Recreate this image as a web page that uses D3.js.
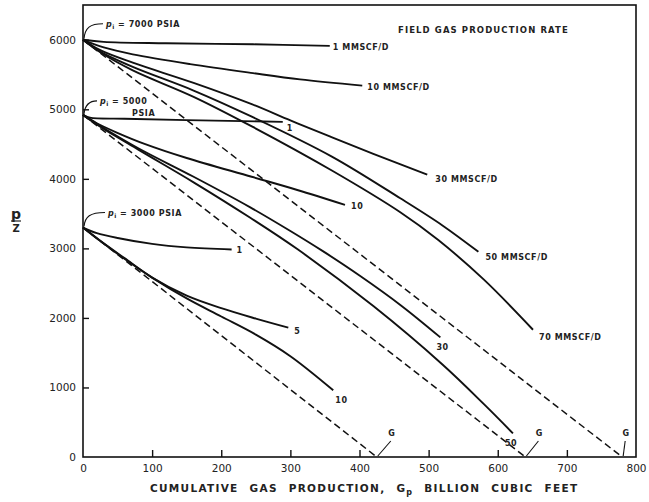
<!DOCTYPE html>
<html>
<head>
<meta charset="utf-8">
<script src="https://cdn.jsdelivr.net/npm/d3@7"></script>
<style>
  body { margin: 0; background: #fff; }
  svg text { font-family: "DejaVu Sans", sans-serif; fill: #222; }
  .tick text { font-size: 10.5px; }
  .lbl { font-size: 8px; font-weight: bold; letter-spacing: 0.6px; }
  .curve { fill: none; stroke: #111; stroke-width: 1.9; }
  .gline { fill: none; stroke: #111; stroke-width: 1.5; stroke-dasharray: 7,4; }
</style>
</head>
<body>
<div id="chart"></div>
<script>
// axis ticks
const xTicks = [0, 100, 200, 300, 400, 500, 600, 700, 800];
const yTicks = [0, 1000, 2000, 3000, 4000, 5000, 6000];

// initial p/Z for each reservoir pressure
const initialPz = { 7000: 6000, 5000: 4920, 3000: 3300 };
// G (gas in place) for each reservoir pressure, bcf
const gasInPlace = { 7000: 780, 5000: 640, 3000: 425 };

// p/Z vs Gp, pi = 7000 psia
const p7000_q1 = [[0, 6000], [30, 5970], [120, 5950], [246, 5935], [357, 5912]];
const p7000_q10 = [[0, 6000], [30, 5890], [72, 5790], [155, 5650], [246, 5520], [314, 5430], [404, 5340]];
const p7000_q30 = [[0, 6000], [25, 5850], [72, 5670], [160, 5380], [245, 5070], [300, 4840], [357, 4610], [420, 4360], [498, 4060]];
const p7000_q50 = [[0, 6000], [25, 5830], [72, 5610], [160, 5270], [245, 4890], [360, 4320], [459, 3720], [520, 3330], [572, 2950]];
const p7000_q70 = [[0, 6000], [25, 5820], [72, 5560], [160, 5180], [245, 4750], [360, 4120], [459, 3520], [514, 3120], [580, 2550], [651, 1830]];

// pi = 5000 psia
const p5000_q1 = [[0, 4920], [10, 4880], [60, 4865], [150, 4845], [289, 4820]];
const p5000_q10 = [[0, 4920], [20, 4800], [48, 4670], [90, 4500], [150, 4300], [244, 4030], [310, 3840], [379, 3626]];
const p5000_q30 = [[0, 4920], [25, 4760], [80, 4440], [160, 4030], [242, 3590], [300, 3250], [347, 2960], [400, 2610], [460, 2180], [517, 1720]];
const p5000_q50 = [[0, 4920], [25, 4750], [80, 4420], [160, 3950], [242, 3440], [310, 2990], [420, 2170], [520, 1330], [580, 760], [622, 340]];

// pi = 3000 psia
const p3000_q1 = [[0, 3300], [20, 3220], [50, 3150], [100, 3065], [150, 3015], [215, 2985]];
const p3000_q5 = [[0, 3300], [25, 3110], [60, 2860], [100, 2580], [150, 2320], [200, 2140], [250, 1990], [297, 1860]];
const p3000_q10 = [[0, 3300], [25, 3105], [60, 2850], [100, 2580], [150, 2280], [200, 2020], [250, 1760], [300, 1450], [362, 960]];

const curves = [
  { pts: p7000_q1, label: "1 MMSCF/D", dx: 3, dy: 2 },
  { pts: p7000_q10, label: "10 MMSCF/D", dx: 5, dy: 2 },
  { pts: p7000_q30, label: "30 MMSCF/D", dx: 8, dy: 5 },
  { pts: p7000_q50, label: "50 MMSCF/D", dx: 7, dy: 6 },
  { pts: p7000_q70, label: "70 MMSCF/D", dx: 6, dy: 8 },
  { pts: p5000_q1, label: "1", dx: 4, dy: 7 },
  { pts: p5000_q10, label: "10", dx: 6, dy: 2 },
  { pts: p5000_q30, label: "30", dx: -4, dy: 10 },
  { pts: p5000_q50, label: "50", dx: -8, dy: 10 },
  { pts: p3000_q1, label: "1", dx: 5, dy: 1 },
  { pts: p3000_q5, label: "5", dx: 6, dy: 4 },
  { pts: p3000_q10, label: "10", dx: 2, dy: 10 }
];

const width = 649, height = 502;
const margin = { top: 5, right: 13, bottom: 45, left: 83 };

const svg = d3.select("#chart").append("svg")
  .attr("width", width)
  .attr("height", height);

const x = d3.scaleLinear().domain([0, 800]).range([margin.left, width - margin.right]);
const y = d3.scaleLinear().domain([0, 6500]).range([height - margin.bottom, margin.top]);

// frame
svg.append("rect")
  .attr("x", x(0)).attr("y", y(6500))
  .attr("width", x(800) - x(0)).attr("height", y(0) - y(6500))
  .attr("fill", "none").attr("stroke", "#111").attr("stroke-width", 1.6);

const xAxis = svg.append("g")
  .attr("transform", `translate(0,${y(0)})`)
  .call(d3.axisBottom(x).tickValues(xTicks).tickFormat(d3.format("d"))
    .tickSizeInner(-7).tickSizeOuter(0).tickPadding(8));
const yAxis = svg.append("g")
  .attr("transform", `translate(${x(0)},0)`)
  .call(d3.axisLeft(y).tickValues(yTicks).tickFormat(d3.format("d"))
    .tickSizeInner(-6).tickSizeOuter(0).tickPadding(7));
[xAxis, yAxis].forEach(a => {
  a.select(".domain").remove();
  a.selectAll(".tick line").attr("stroke", "#111").attr("stroke-width", 1.4);
  a.selectAll(".tick text").attr("fill", "#222");
});
yAxis.selectAll(".tick").filter(d => d === 0).select("line").remove();
xAxis.selectAll(".tick").filter(d => d === 0 || d === 800).select("line").remove();

const line = d3.line()
  .x(d => x(d[0]))
  .y(d => y(d[1]))
  .curve(d3.curveCatmullRom.alpha(0.5));

// dashed material balance lines
Object.keys(initialPz).forEach(pi => {
  svg.append("path")
    .attr("class", "gline")
    .attr("d", d3.line().x(d => x(d[0])).y(d => y(d[1]))([[0, initialPz[pi]], [gasInPlace[pi], 0]]));
});

// rate curves
curves.forEach(c => {
  svg.append("path").attr("class", "curve").attr("d", line(c.pts));
  const end = c.pts[c.pts.length - 1];
  svg.append("text")
    .attr("class", "lbl")
    .attr("x", x(end[0]) + c.dx)
    .attr("y", y(end[1]) + c.dy)
    .attr("dominant-baseline", "middle")
    .text(c.label);
});

// G markers at intercepts
const gMarks = [
  { pi: 3000, dx: 14, dy: -16 },
  { pi: 5000, dx: 13, dy: -16 },
  { pi: 7000, dx: 3, dy: -16 }
];
gMarks.forEach(g => {
  const gx = x(gasInPlace[g.pi]), gy = y(0);
  svg.append("line")
    .attr("x1", gx + 1).attr("y1", gy - 1)
    .attr("x2", gx + g.dx).attr("y2", gy + g.dy)
    .attr("stroke", "#111").attr("stroke-width", 1.1);
  svg.append("text")
    .attr("class", "lbl")
    .attr("x", gx + g.dx + 1).attr("y", gy + g.dy - 5)
    .attr("text-anchor", "middle")
    .text("G");
});

// initial pressure labels with curved leaders
const piLabels = [
  { pi: 7000, lx: 103, ly: -15, lines: ["= 7000 PSIA"] },
  { pi: 5000, lx: 97, ly: -13, lines: ["= 5000", "PSIA"] },
  { pi: 3000, lx: 105, ly: -14, lines: ["= 3000 PSIA"] }
];
piLabels.forEach(p => {
  const sx = x(0) + 1, sy = y(initialPz[p.pi]) - 1;
  const ex = p.lx, ey = sy + p.ly;
  svg.append("path")
    .attr("d", `M${sx},${sy} C${sx + 1},${ey + 4} ${sx + 6},${ey} ${ex},${ey}`)
    .attr("fill", "none").attr("stroke", "#111").attr("stroke-width", 1.1);
  const t = svg.append("text").attr("class", "lbl").attr("x", ex + 3).attr("y", ey + 3);
  t.append("tspan").attr("font-style", "italic").text("p");
  t.append("tspan").attr("font-size", "6px").attr("dy", 2).text("i");
  t.append("tspan").attr("dy", -2).attr("dx", 3).text(p.lines[0]);
  if (p.lines[1]) {
    svg.append("text").attr("class", "lbl")
      .attr("x", ex + 35).attr("y", ey + 15)
      .text(p.lines[1]);
  }
});

// legend heading
svg.append("text")
  .attr("class", "lbl")
  .attr("x", 398).attr("y", 33)
  .style("font-size", "8.5px")
  .style("letter-spacing", "1.1px")
  .text("FIELD GAS PRODUCTION RATE");

// y axis title p / Z
const yt = svg.append("g").attr("transform", "translate(16,221)");
yt.append("text").attr("text-anchor", "middle").attr("y", -2)
  .style("font-size", "14px").style("font-weight", "bold").text("p");
yt.append("line").attr("x1", -5).attr("x2", 5).attr("y1", 0).attr("y2", 0)
  .attr("stroke", "#222").attr("stroke-width", 1.2);
yt.append("text").attr("text-anchor", "middle").attr("y", 11)
  .style("font-size", "10px").style("font-weight", "bold").text("Z");

// x axis title
const xt = svg.append("text")
  .attr("x", 150).attr("y", 492)
  .style("font-size", "10.5px").style("font-weight", "bold")
  .style("letter-spacing", "1.3px").style("word-spacing", "6px");
xt.append("tspan").text("CUMULATIVE GAS PRODUCTION, G");
xt.append("tspan").attr("dy", 3).style("font-size", "8px").text("p");
xt.append("tspan").attr("dy", -3).text(" BILLION CUBIC FEET");
</script>
</body>
</html>
